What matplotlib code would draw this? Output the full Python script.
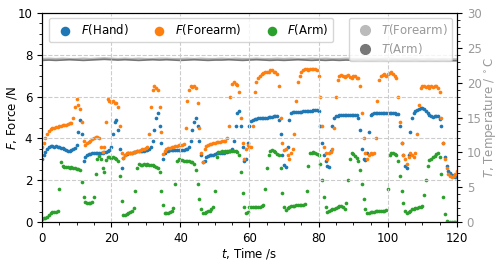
import numpy as np
import matplotlib
matplotlib.use("Agg")
import matplotlib.pyplot as plt
from matplotlib.lines import Line2D
from matplotlib.ticker import MultipleLocator

plt.rcParams["font.size"] = 8.5

# time base for the force samples (s), one value every 0.5 s
t_force = np.arange(0, 120.5, 0.5)

f_hand = [
    3.0, 3.2, 3.35, 3.5, 3.6, 3.65, 3.65, 3.6, 3.62, 3.6,
    3.58, 3.55, 3.52, 3.5, 3.45, 3.42, 3.4, 3.45, 3.5, 3.55,
    3.7, 4.3, 4.9, 4.2, 2.9, 3.1, 3.2, 3.25, 3.25, 3.28,
    3.3, 3.3, 3.3, 3.32, 3.3, 3.32, 3.35, 3.35, 3.4, 3.45,
    3.6, 4.2, 4.8, 4.9, 4.4, 3.5, 2.6, 3.05, 3.2, 3.25,
    3.3, 3.3, 3.32, 3.35, 3.35, 3.38, 3.4, 3.4, 3.42, 3.42,
    3.45, 3.45, 3.5, 3.6, 3.9, 4.4, 5.0, 5.2, 4.6, 3.8,
    3.0, 3.3, 3.4, 3.42, 3.45, 3.45, 3.45, 3.45, 3.45, 3.45,
    3.45, 3.45, 3.45, 3.48, 3.5, 3.6, 3.9, 4.4, 4.8, 5.0,
    4.6, 3.9, 3.2, 2.85, 2.9, 3.1, 3.15, 3.2, 3.2, 3.22,
    3.25, 3.28, 3.3, 3.3, 3.32, 3.32, 3.35, 3.35, 3.38, 3.4,
    3.5, 3.9, 4.6, 5.2, 5.3, 4.6, 3.6, 2.9, 3.0, 3.8,
    4.6, 4.85, 4.9, 4.95, 4.95, 4.97, 4.97, 5.0, 5.0, 5.0,
    5.0, 5.02, 5.02, 5.03, 5.05, 5.05, 5.05, 4.9, 4.2, 3.2,
    2.75, 2.65, 3.6, 4.9, 5.2, 5.25, 5.25, 5.27, 5.28, 5.28,
    5.28, 5.3, 5.3, 5.3, 5.32, 5.32, 5.33, 5.35, 5.35, 5.36,
    5.3, 4.6, 3.8, 3.2, 2.9, 2.7, 2.65, 3.4, 4.6, 5.0,
    5.05, 5.08, 5.1, 5.1, 5.12, 5.12, 5.12, 5.12, 5.12, 5.1,
    5.12, 5.12, 5.1, 5.0, 4.4, 3.5, 3.0, 2.95, 3.3, 4.3,
    5.1, 5.18, 5.2, 5.2, 5.2, 5.2, 5.2, 5.2, 5.2, 5.2,
    5.2, 5.2, 5.2, 5.2, 5.2, 5.18, 5.15, 4.6, 3.8, 3.2,
    2.7, 2.6, 3.2, 4.3, 5.0, 5.2, 5.3, 5.38, 5.42, 5.44,
    5.44, 5.4, 5.32, 5.2, 5.1, 5.05, 5.04, 5.05, 5.05, 5.05,
    4.95, 4.6, 3.8, 3.1, 2.7, 2.45, 2.35, 2.25, 2.2, 2.17,
    2.15,
]

f_forearm = [
    3.6, 3.8, 4.0, 4.2, 4.35, 4.45, 4.5, 4.5, 4.55, 4.55,
    4.6, 4.6, 4.62, 4.65, 4.65, 4.7, 4.72, 4.75, 5.0, 5.5,
    5.9, 5.6, 5.4, 4.8, 3.9, 3.7, 3.8, 3.85, 3.9, 3.95,
    4.0, 4.05, 4.05, 4.0, 3.6, 3.35, 3.6, 4.8, 5.9, 5.8,
    5.75, 5.8, 5.7, 5.7, 5.5, 4.6, 3.3, 3.05, 3.2, 3.3,
    3.3, 3.3, 3.32, 3.35, 3.35, 3.38, 3.4, 3.45, 3.48, 3.5,
    3.55, 3.6, 4.2, 5.5, 6.3, 6.5, 6.4, 6.3, 5.5, 4.3,
    3.25, 3.4, 3.5, 3.55, 3.55, 3.6, 3.6, 3.65, 3.65, 3.7,
    3.7, 3.7, 3.75, 4.5, 5.8, 6.3, 6.5, 6.45, 6.5, 6.4,
    5.7, 4.5, 3.3, 2.85, 3.5, 3.65, 3.7, 3.72, 3.75, 3.78,
    3.8, 3.82, 3.85, 3.85, 3.88, 3.9, 3.9, 4.0, 4.6, 6.0,
    6.6, 6.7, 6.6, 6.55, 6.2, 5.0, 3.8, 3.0, 3.5, 3.7,
    3.6, 3.6, 4.6, 6.2, 6.7, 6.9, 7.0, 7.1, 7.15, 7.2,
    7.2, 7.2, 7.25, 7.25, 7.2, 7.2, 7.1, 6.5, 5.0, 3.8,
    3.45, 3.5, 3.2, 3.0, 3.3, 3.5, 4.2, 5.8, 6.7, 7.0,
    7.2, 7.25, 7.3, 7.3, 7.25, 7.3, 7.3, 7.3, 7.3, 7.25,
    7.0, 6.0, 4.6, 3.6, 3.3, 3.0, 3.3, 3.35, 3.5, 4.5,
    6.0, 6.8, 7.0, 7.05, 7.0, 6.95, 7.0, 7.05, 6.95, 6.9,
    7.0, 7.0, 6.9, 6.9, 6.5, 5.2, 4.0, 3.3, 3.0, 3.2,
    3.3, 3.25, 3.3, 4.0, 5.8, 6.8, 7.0, 7.05, 7.1, 7.0,
    7.1, 7.15, 7.2, 7.1, 7.0, 6.9, 6.0, 4.8, 3.8, 3.2,
    3.0, 2.8, 3.1, 3.3, 3.2, 3.1, 3.3, 4.2, 5.6, 6.4,
    6.5, 6.5, 6.45, 6.5, 6.4, 6.5, 6.45, 6.5, 6.5, 6.4,
    6.2, 5.0, 3.8, 3.0, 2.6, 2.3, 2.2, 2.15, 2.2, 2.3,
    2.45,
]

f_arm = [
    0.15, 0.18, 0.2, 0.25, 0.35, 0.45, 0.48, 0.5, 0.5, 0.55,
    1.6, 2.85, 2.7, 2.65, 2.65, 2.62, 2.6, 2.62, 2.6, 2.58,
    2.55, 2.55, 2.5, 1.9, 1.2, 0.95, 0.9, 0.9, 0.92, 0.95,
    1.2, 2.3, 3.0, 3.15, 3.0, 2.6, 2.4, 2.95, 3.1, 3.1,
    3.05, 3.1, 3.05, 3.0, 2.9, 2.2, 1.0, 0.35, 0.32, 0.38,
    0.45, 0.5, 0.55, 0.65, 1.5, 2.6, 2.8, 2.75, 2.75, 2.78,
    2.75, 2.78, 2.75, 2.75, 2.72, 2.7, 2.65, 2.6, 2.4, 1.5,
    0.8, 0.45, 0.42, 0.45, 0.5, 0.55, 0.65, 1.8, 2.9, 3.0,
    2.95, 2.95, 2.92, 2.9, 2.9, 2.9, 2.88, 2.85, 2.8, 2.5,
    1.8, 1.1, 0.6, 0.45, 0.45, 0.5, 0.55, 0.55, 0.6, 0.7,
    1.5, 3.1, 3.35, 3.35, 3.4, 3.35, 3.4, 3.4, 3.38, 3.4,
    3.42, 3.4, 3.38, 3.35, 3.2, 2.4, 1.4, 0.7, 0.45, 0.5,
    0.7, 0.72, 0.72, 0.72, 0.73, 0.73, 0.74, 0.75, 0.8, 1.6,
    2.6, 3.2, 3.4, 3.45, 3.4, 3.35, 3.25, 3.2, 2.6, 1.4,
    0.7, 0.57, 0.65, 0.72, 0.75, 0.75, 0.78, 0.8, 0.8, 0.8,
    0.82, 0.82, 0.85, 1.5, 2.7, 3.3, 3.3, 3.35, 3.3, 3.25,
    3.2, 2.8, 2.0, 1.2, 0.7, 0.5, 0.55, 0.58, 0.6, 0.62,
    0.65, 0.7, 0.75, 0.75, 0.7, 0.62, 0.9, 2.0, 3.0, 3.3,
    3.25, 3.15, 3.05, 2.9, 2.5, 1.8, 1.1, 0.6, 0.43, 0.45,
    0.48, 0.5, 0.5, 0.52, 0.52, 0.53, 0.55, 0.55, 0.55, 0.58,
    1.6, 3.2, 3.3, 3.3, 3.25, 3.2, 2.9, 2.2, 1.5, 0.9,
    0.55, 0.43, 0.5, 0.55, 0.6, 0.62, 0.65, 0.68, 0.7, 0.72,
    0.78, 1.3, 2.0, 2.7, 2.95, 3.0, 3.1, 3.15, 3.25, 3.3,
    3.1, 2.3, 1.2, 0.4, 0.05, 0.02, 0.02, 0.02, 0.02, 0.02,
    0.02,
]

# temperatures, one value every 2 s
t_temp = np.arange(0, 121, 2)
temp_forearm = [
    23.4, 23.45, 23.4, 23.45, 23.4, 23.4, 23.45, 23.4, 23.45, 23.5,
    23.45, 23.4, 23.45, 23.4, 23.45, 23.4, 23.4, 23.45, 23.45, 23.4,
    23.4, 23.45, 23.4, 23.45, 23.4, 23.4, 23.45, 23.4, 23.45, 23.4,
    23.4, 23.45, 23.4, 23.4, 23.45, 23.4, 23.45, 23.4, 23.4, 23.45,
    23.4, 23.45, 23.4, 23.4, 23.45, 23.4, 23.4, 23.45, 23.4, 23.4,
    23.45, 23.4, 23.4, 23.45, 23.4, 23.35, 23.4, 23.35, 23.4, 23.35,
    23.35,
]
temp_arm = [
    23.2, 23.25, 23.2, 23.25, 23.3, 23.25, 23.2, 23.25, 23.3, 23.35,
    23.3, 23.25, 23.3, 23.25, 23.2, 23.25, 23.3, 23.25, 23.3, 23.25,
    23.2, 23.25, 23.3, 23.25, 23.2, 23.25, 23.25, 23.3, 23.25, 23.2,
    23.25, 23.3, 23.25, 23.2, 23.25, 23.2, 23.25, 23.3, 23.25, 23.2,
    23.25, 23.2, 23.25, 23.2, 23.25, 23.2, 23.25, 23.2, 23.2, 23.25,
    23.2, 23.25, 23.2, 23.2, 23.25, 23.15, 23.2, 23.15, 23.2, 23.15,
    23.15,
]

c_hand, c_forearm, c_arm = "tab:blue", "tab:orange", "tab:green"
c_tfore, c_tarm = "#bbbbbb", "#777777"

fig = plt.figure(figsize=(5, 2.6), dpi=100)
ax = fig.add_axes([0.084, 0.146, 0.83, 0.804])
ax2 = ax.twinx()

ax2.plot(t_temp, temp_forearm, "-", color=c_tfore, lw=1.6, zorder=2)
ax2.plot(t_temp, temp_arm, "-", color=c_tarm, lw=1.2, zorder=3)

ax.set_zorder(ax2.get_zorder() + 1)
ax.patch.set_visible(False)

h1 = ax.scatter(t_force, f_hand, s=7, color=c_hand, lw=0, label="$F$(Hand)")
h2 = ax.scatter(t_force, f_forearm, s=7, color=c_forearm, lw=0, label="$F$(Forearm)")
h3 = ax.scatter(t_force, f_arm, s=7, color=c_arm, lw=0, label="$F$(Arm)")

ax.set_xlim(0, 120)
ax.set_ylim(0, 10)
ax2.set_ylim(0, 30)
ax.xaxis.set_major_locator(MultipleLocator(20))
ax.xaxis.set_minor_locator(MultipleLocator(5))
ax.yaxis.set_major_locator(MultipleLocator(2))
ax.yaxis.set_minor_locator(MultipleLocator(0.5))
ax2.yaxis.set_major_locator(MultipleLocator(5))
ax2.yaxis.set_minor_locator(MultipleLocator(1))
ax.grid(True, which="major", ls="--", color="#cccccc", lw=0.8)

ax.set_xlabel("$t$, Time /s", labelpad=1)
ax.set_ylabel("$F$, Force /N")
ax.yaxis.set_label_coords(-0.056, 0.5)
ax2.set_ylabel("$T$, Temperature / $^\\circ$C", color="#999999")
ax2.yaxis.set_label_coords(1.062, 0.5)
ax2.tick_params(axis="y", which="both", labelcolor="#999999")

leg1 = ax.legend(handles=[h1, h2, h3], loc="upper left", ncol=3,
                 markerscale=2.6, borderaxespad=0.4, handletextpad=0.3,
                 columnspacing=1.6, bbox_to_anchor=(0.005, 1.0))
ax.add_artist(leg1)

t_handles = [
    Line2D([], [], marker="o", ls="", color=c_tfore, ms=7, label="$T$(Forearm)"),
    Line2D([], [], marker="o", ls="", color=c_tarm, ms=7, label="$T$(Arm)"),
]
leg2 = ax.legend(handles=t_handles, loc="upper right", handletextpad=0.3,
                 borderaxespad=0.4, labelspacing=0.3)
for txt in leg2.get_texts():
    txt.set_color("#999999")

fig.savefig("out.png", dpi=100)
